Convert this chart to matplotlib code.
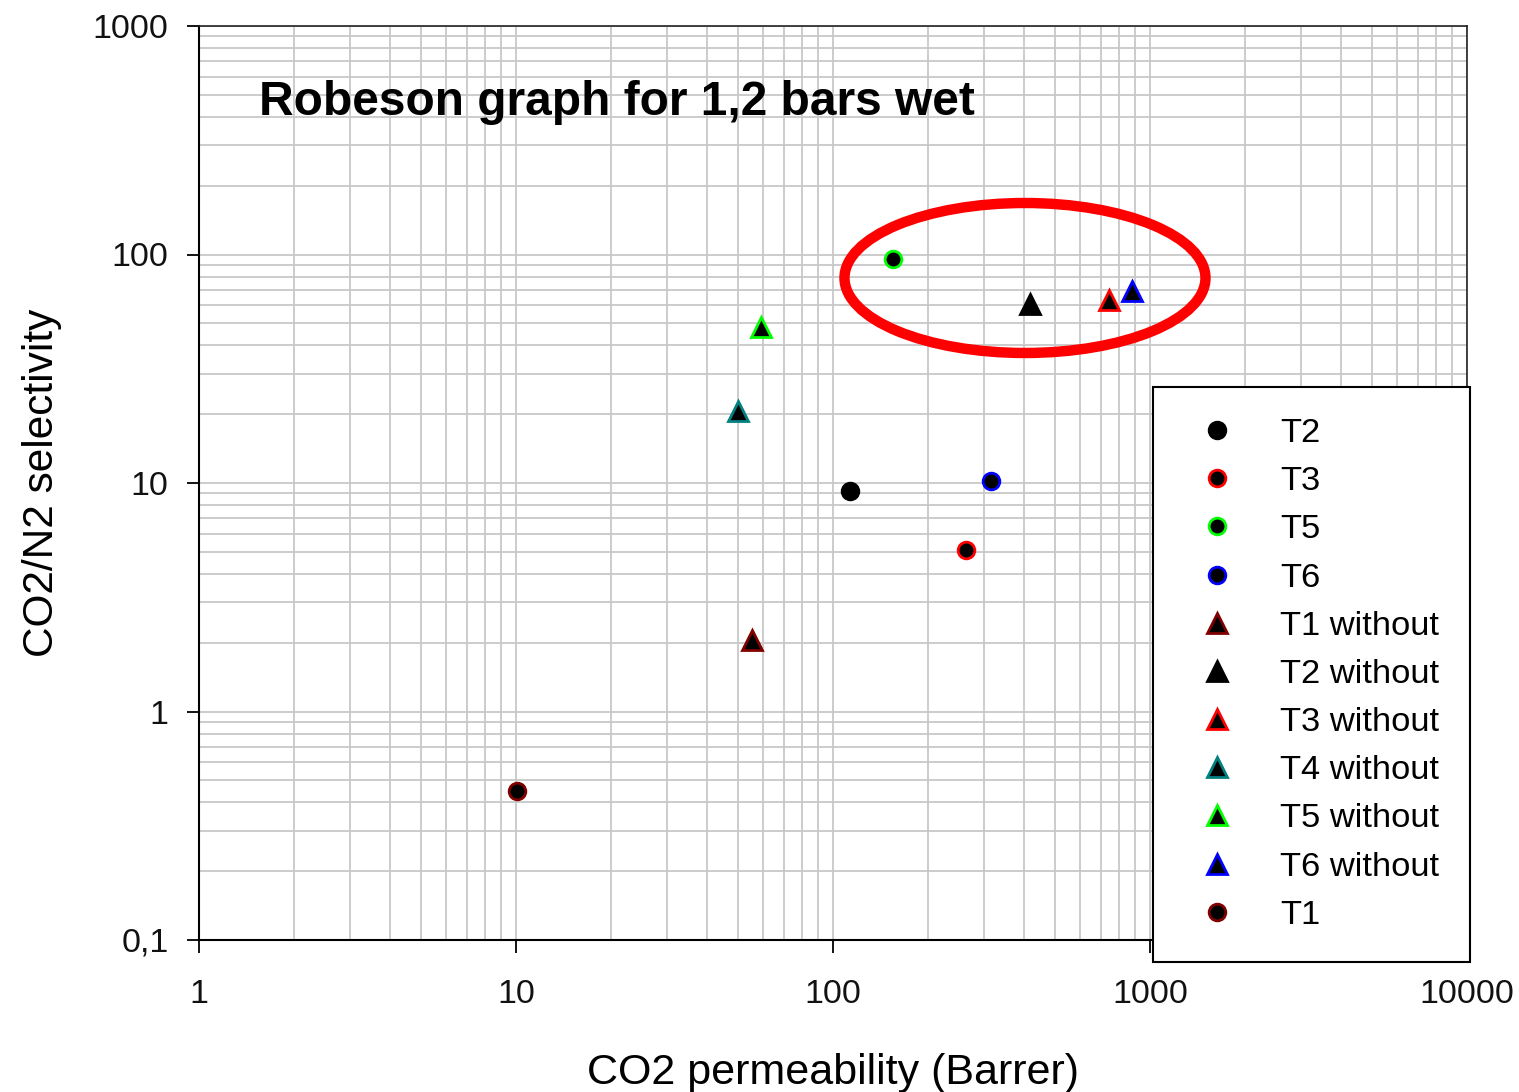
import matplotlib
matplotlib.use("Agg")
import matplotlib.pyplot as plt
from matplotlib.patches import Ellipse
from matplotlib.ticker import LogLocator, FixedLocator, FixedFormatter, NullFormatter

plt.rcParams['font.family'] = ['Liberation Sans', 'DejaVu Sans']

# Samples: label, CO2 permeability (Barrer), CO2/N2 selectivity, marker, edge colour
labels = ["T2", "T3", "T5", "T6", "T1 without", "T2 without", "T3 without",
          "T4 without", "T5 without", "T6 without", "T1"]
permeability = [113, 263, 155, 315, 55.5, 418, 743, 50.2, 59.3, 877, 10.07]
selectivity = [9.2, 5.1, 95.5, 10.2, 2.05, 61, 63, 20.7, 48, 69, 0.449]
markers = ["o", "o", "o", "o", "^", "^", "^", "^", "^", "^", "o"]
edge_colors = ["#000000", "#ff0000", "#00ff00", "#0000ff", "#800000", "#000000",
               "#ff0000", "#008080", "#00ff00", "#0000ff", "#800000"]

x_ticks = [1, 10, 100, 1000, 10000]
x_tick_labels = ["1", "10", "100", "1000", "10000"]
y_ticks = [0.1, 1, 10, 100, 1000]
y_tick_labels = ["0,1", "1", "10", "100", "1000"]

fig = plt.figure(figsize=(15.19, 10.92), dpi=100)
ax = fig.add_axes([199 / 1519, 1 - 940 / 1092, (1467 - 199) / 1519, (940 - 26) / 1092])
ax.set_xscale("log")
ax.set_yscale("log")
ax.set_xlim(1, 10000)
ax.set_ylim(0.1, 1000)

# Excel-style grid on every decade subdivision
ax.xaxis.set_minor_locator(LogLocator(base=10, subs=range(2, 10), numticks=50))
ax.yaxis.set_minor_locator(LogLocator(base=10, subs=range(2, 10), numticks=50))
ax.xaxis.set_minor_formatter(NullFormatter())
ax.yaxis.set_minor_formatter(NullFormatter())
ax.grid(True, which="both", color="#c8c8c8", linewidth=1.3)
ax.set_axisbelow(True)

ax.xaxis.set_major_locator(FixedLocator(x_ticks))
ax.xaxis.set_major_formatter(FixedFormatter(x_tick_labels))
ax.yaxis.set_major_locator(FixedLocator(y_ticks))
ax.yaxis.set_major_formatter(FixedFormatter(y_tick_labels))
ax.tick_params(which="minor", length=0)
ax.tick_params(which="major", direction="out", length=9, width=1.3, color="black",
               labelsize=24.5, labelcolor="#111111")
ax.tick_params(axis="x", which="major", pad=19)
ax.tick_params(axis="y", which="major", pad=13)

for side in ["left", "bottom"]:
    ax.spines[side].set_linewidth(1.5)
    ax.spines[side].set_color("black")
for side in ["top", "right"]:
    ax.spines[side].set_linewidth(1.2)
    ax.spines[side].set_color("#222222")

handles = []
for lab, xv, yv, mk, ec in zip(labels, permeability, selectivity, markers, edge_colors):
    ms = 12 if mk == "o" else 15
    h, = ax.plot([xv], [yv], linestyle="none", marker=mk, markersize=ms,
                 markerfacecolor="black", markeredgecolor=ec, markeredgewidth=2,
                 label=lab, zorder=5)
    handles.append(h)

ax.set_xlabel("CO2 permeability (Barrer)", fontsize=31, labelpad=31)
ax.set_ylabel("CO2/N2 selectivity", fontsize=30.5, labelpad=22)

ax.text((259 - 199) / 1268, (940 - 115) / 914, "Robeson graph for 1,2 bars wet",
        transform=ax.transAxes, fontsize=34.5, fontweight="bold", va="baseline", ha="left")

ax.add_patch(Ellipse((0.6514, 0.7243), 0.2847, 0.1641, transform=ax.transAxes,
                     fill=False, edgecolor="#ff0000", linewidth=7.5, zorder=6))

leg = fig.legend(handles=handles, loc="upper left",
                 bbox_to_anchor=(1153 / 1519, 1 - 387 / 1092),
                 fontsize=24.8, frameon=True, fancybox=False, shadow=False,
                 borderpad=0.9, labelspacing=0.495, handletextpad=0.87,
                 handlelength=1.92, borderaxespad=0)
leg.get_frame().set_edgecolor("black")
leg.get_frame().set_linewidth(1.5)
leg.get_frame().set_alpha(1)
leg.set_zorder(10)

fig.savefig("out.png", dpi=100)
